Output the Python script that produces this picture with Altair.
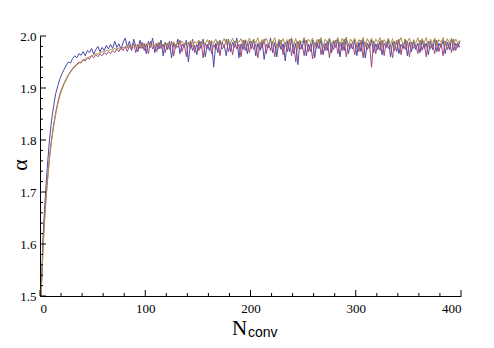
import altair as alt
import pandas as pd

# x positions of samples (every 2 steps)
x_vals = list(range(1, 400, 2))

blue = [
 1.500, 1.620, 1.690, 1.750, 1.800, 1.838, 1.866, 1.890, 1.905, 1.918, 1.928, 1.936, 1.944, 1.950, 1.948, 1.957, 1.962, 1.958, 1.966, 1.963,
 1.970, 1.962, 1.972, 1.968, 1.976, 1.965, 1.974, 1.980, 1.970, 1.978, 1.972, 1.982, 1.975, 1.984, 1.976, 1.990, 1.978, 1.985, 1.974, 1.988,
 1.996, 1.978, 1.990, 1.972, 1.994, 1.980, 1.970, 1.992, 1.976, 1.986, 1.966, 1.990, 1.978, 1.996, 1.968, 1.985, 1.975, 1.992, 1.962, 1.988,
 1.974, 1.990, 1.958, 1.986, 1.976, 1.994, 1.966, 1.984, 1.978, 1.992, 1.950, 1.988, 1.972, 1.982, 1.964, 1.990, 1.976, 1.994, 1.960, 1.984,
 1.972, 1.990, 1.940, 1.986, 1.968, 1.992, 1.975, 1.982, 1.962, 1.994, 1.970, 1.988, 1.978, 1.996, 1.958, 1.985, 1.974, 1.992, 1.966, 1.990,
 1.976, 1.994, 1.962, 1.986, 1.972, 1.990, 1.955, 1.984, 1.978, 1.996, 1.968, 1.988, 1.960, 1.992, 1.974, 1.985, 1.952, 1.990, 1.970, 1.994,
 1.966, 1.986, 1.945, 1.990, 1.975, 1.996, 1.962, 1.984, 1.970, 1.992, 1.958, 1.988, 1.976, 1.994, 1.964, 1.986, 1.972, 1.996, 1.968, 1.990,
 1.978, 1.994, 1.960, 1.988, 1.972, 1.996, 1.966, 1.985, 1.975, 1.992, 1.962, 1.988, 1.970, 1.994, 1.958, 1.986, 1.976, 1.992, 1.968, 1.985,
 1.974, 1.990, 1.964, 1.986, 1.978, 1.994, 1.960, 1.988, 1.972, 1.992, 1.966, 1.984, 1.976, 1.994, 1.962, 1.988, 1.970, 1.990, 1.974, 1.986,
 1.968, 1.992, 1.976, 1.986, 1.964, 1.990, 1.974, 1.994, 1.970, 1.986, 1.978, 1.992, 1.966, 1.988, 1.974, 1.994, 1.972, 1.986, 1.978, 1.990,
]

red = [
 1.500, 1.600, 1.670, 1.722, 1.768, 1.802, 1.830, 1.854, 1.873, 1.889, 1.900, 1.910, 1.918, 1.926, 1.932, 1.938, 1.942, 1.946, 1.950, 1.948,
 1.955, 1.952, 1.958, 1.956, 1.962, 1.958, 1.964, 1.960, 1.966, 1.962, 1.968, 1.964, 1.970, 1.966, 1.972, 1.968, 1.975, 1.970, 1.978, 1.972,
 1.980, 1.970, 1.982, 1.974, 1.986, 1.968, 1.984, 1.976, 1.988, 1.972, 1.985, 1.966, 1.990, 1.975, 1.982, 1.970, 1.988, 1.976, 1.984, 1.968,
 1.986, 1.974, 1.990, 1.962, 1.984, 1.978, 1.992, 1.970, 1.986, 1.960, 1.988, 1.976, 1.994, 1.968, 1.984, 1.972, 1.990, 1.958, 1.986, 1.976,
 1.992, 1.966, 1.984, 1.974, 1.990, 1.962, 1.988, 1.978, 1.994, 1.970, 1.986, 1.964, 1.990, 1.975, 1.984, 1.960, 1.992, 1.972, 1.986, 1.968,
 1.990, 1.974, 1.984, 1.958, 1.988, 1.976, 1.994, 1.966, 1.986, 1.972, 1.990, 1.960, 1.984, 1.978, 1.992, 1.964, 1.988, 1.970, 1.994, 1.962,
 1.986, 1.950, 1.990, 1.974, 1.984, 1.962, 1.992, 1.970, 1.986, 1.956, 1.988, 1.976, 1.994, 1.964, 1.984, 1.972, 1.990, 1.958, 1.986, 1.974,
 1.992, 1.966, 1.988, 1.972, 1.994, 1.960, 1.986, 1.976, 1.990, 1.964, 1.984, 1.970, 1.992, 1.958, 1.988, 1.974, 1.986, 1.940, 1.990, 1.966,
 1.986, 1.972, 1.992, 1.962, 1.988, 1.976, 1.984, 1.958, 1.990, 1.970, 1.994, 1.964, 1.986, 1.974, 1.990, 1.960, 1.988, 1.976, 1.984, 1.966,
 1.992, 1.972, 1.986, 1.960, 1.990, 1.976, 1.984, 1.966, 1.992, 1.970, 1.986, 1.962, 1.990, 1.974, 1.988, 1.968, 1.994, 1.972, 1.986, 1.978,
]

gold = [
 1.500, 1.595, 1.665, 1.718, 1.763, 1.798, 1.826, 1.850, 1.870, 1.886, 1.898, 1.908, 1.916, 1.924, 1.930, 1.936, 1.940, 1.944, 1.948, 1.950,
 1.953, 1.956, 1.958, 1.960, 1.962, 1.964, 1.966, 1.965, 1.968, 1.970, 1.969, 1.972, 1.971, 1.974, 1.973, 1.976, 1.975, 1.977, 1.976, 1.978,
 1.977, 1.980, 1.978, 1.982, 1.979, 1.983, 1.980, 1.984, 1.978, 1.985, 1.981, 1.986, 1.979, 1.984, 1.982, 1.987, 1.980, 1.986, 1.983, 1.988,
 1.981, 1.987, 1.984, 1.989, 1.980, 1.988, 1.985, 1.990, 1.982, 1.988, 1.984, 1.991, 1.980, 1.989, 1.986, 1.992, 1.982, 1.990, 1.985, 1.993,
 1.983, 1.991, 1.986, 1.994, 1.982, 1.990, 1.987, 1.995, 1.984, 1.992, 1.986, 1.996, 1.983, 1.991, 1.988, 1.995, 1.982, 1.993, 1.987, 1.996,
 1.984, 1.994, 1.986, 1.997, 1.980, 1.993, 1.988, 1.996, 1.983, 1.992, 1.987, 1.997, 1.978, 1.994, 1.986, 1.995, 1.982, 1.993, 1.988, 1.997,
 1.983, 1.995, 1.976, 1.992, 1.987, 1.997, 1.982, 1.994, 1.988, 1.996, 1.980, 1.993, 1.986, 1.997, 1.978, 1.994, 1.988, 1.996, 1.984, 1.992,
 1.987, 1.997, 1.982, 1.995, 1.986, 1.998, 1.980, 1.994, 1.988, 1.996, 1.983, 1.993, 1.987, 1.997, 1.979, 1.995, 1.986, 1.996, 1.982, 1.994,
 1.988, 1.997, 1.980, 1.993, 1.986, 1.996, 1.983, 1.995, 1.976, 1.992, 1.987, 1.997, 1.982, 1.994, 1.988, 1.996, 1.980, 1.993, 1.986, 1.997,
 1.983, 1.995, 1.987, 1.997, 1.979, 1.994, 1.986, 1.996, 1.982, 1.993, 1.988, 1.997, 1.981, 1.995, 1.986, 1.996, 1.983, 1.994, 1.987, 1.992,
]

x_labels = [0, 100, 200, 300, 400]
x_minor = [20, 40, 60, 80, 120, 140, 160, 180, 220, 240, 260, 280, 320, 340, 360, 380]
y_labels = [1.5, 1.6, 1.7, 1.8, 1.9, 2.0]
y_minor = [1.52, 1.54, 1.56, 1.58, 1.62, 1.64, 1.66, 1.68, 1.72, 1.74, 1.76, 1.78,
           1.82, 1.84, 1.86, 1.88, 1.92, 1.94, 1.96, 1.98]

colors = {"blue": "#4a4aa8", "red": "#a3477a", "gold": "#a89448"}
SERIF = "Liberation Serif, Times New Roman, serif"

W, H = 421, 260
xs = alt.Scale(domain=[0, 400], nice=False, zero=False)
ys = alt.Scale(domain=[1.5, 2.0], nice=False, zero=False)

x_axis = alt.Axis(values=x_labels, format="d", tickSize=0, domainColor="black",
                  labelFont=SERIF, labelFontSize=13, labelColor="black",
                  labelPadding=6, grid=False, title=None)
y_axis = alt.Axis(values=y_labels, format=".1f", tickSize=0, domainColor="black",
                  labelFont=SERIF, labelFontSize=13, labelColor="black",
                  labelPadding=4, grid=False, title=None)

def X(field="x"):
    return alt.X(f"{field}:Q", scale=xs, axis=x_axis, title=None)

def Y(field="y"):
    return alt.Y(f"{field}:Q", scale=ys, axis=y_axis, title=None)

def line(vals, col):
    df = pd.DataFrame({"x": x_vals, "y": vals})
    return alt.Chart(df).mark_line(color=col, strokeWidth=1).encode(x=X(), y=Y())

xmaj = alt.Chart(pd.DataFrame({"x": x_labels})).mark_rule(color="black", strokeWidth=1).encode(
    x=X(), y=alt.value(H), y2=alt.value(H - 6))
xmin = alt.Chart(pd.DataFrame({"x": x_minor})).mark_rule(color="black", strokeWidth=1).encode(
    x=X(), y=alt.value(H), y2=alt.value(H - 3))
ymaj = alt.Chart(pd.DataFrame({"y": y_labels})).mark_rule(color="black", strokeWidth=1).encode(
    y=Y(), x=alt.value(0), x2=alt.value(6))
ymin = alt.Chart(pd.DataFrame({"y": y_minor})).mark_rule(color="black", strokeWidth=1).encode(
    y=Y(), x=alt.value(0), x2=alt.value(3))

lbl = pd.DataFrame({"t": [0]})
n_text = alt.Chart(lbl).mark_text(text="N", font=SERIF, fontSize=21,
                                  align="left", baseline="alphabetic", color="black").encode(
    x=alt.value(192), y=alt.value(299))
conv_text = alt.Chart(lbl).mark_text(text="conv", font="Liberation Sans, Arial, sans-serif", fontSize=14,
                                     align="left", baseline="alphabetic", color="black").encode(
    x=alt.value(208), y=alt.value(301))
alpha_text = alt.Chart(lbl).mark_text(text="α", font=SERIF, fontSize=22,
                                      angle=270, align="center", baseline="middle", color="black").encode(
    x=alt.value(-20), y=alt.value(129))

chart = alt.layer(
    line(blue, colors["blue"]), line(red, colors["red"]), line(gold, colors["gold"]),
    xmaj, xmin, ymaj, ymin, n_text, conv_text, alpha_text,
).properties(
    width=W, height=H,
    background="white",
    autosize=alt.AutoSizeParams(type="none"),
    padding={"left": 32, "top": 28, "right": 25, "bottom": 44},
).configure(
    view=alt.ViewConfig(stroke=None, strokeWidth=0),
    style={"cell": {"stroke": None, "strokeWidth": 0}},
)

chart.save("out.html", embed_options={"renderer": "svg", "actions": False})
